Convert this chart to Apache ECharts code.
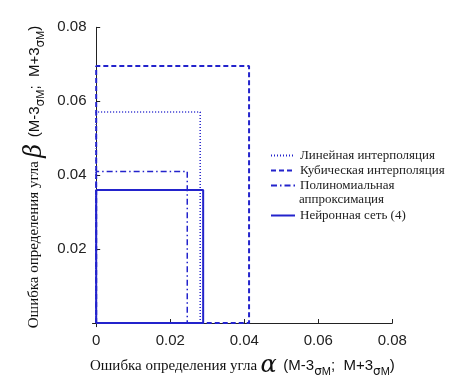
<!DOCTYPE html>
<html>
<head>
<meta charset="utf-8">
<script src="https://cdn.jsdelivr.net/npm/echarts@6/dist/echarts.min.js"></script>
<style>
  html, body { margin: 0; padding: 0; background: #fff; }
  #chart { width: 468px; height: 376px; }
</style>
</head>
<body>
<div id="chart"></div>
<script>
// методы: границы интервалов (M-3σ; M+3σ) по alpha и beta
var methods = ["Линейная интерполяция", "Кубическая интерполяция", "Полиномиальная", "Нейронная сеть (4)"];
var alphaLow = [0, 0, 0, 0];
var alphaHigh = [0.0281, 0.0413, 0.0246, 0.0289];
var betaLow = [0, 0, 0, 0];
var betaHigh = [0.0571, 0.0695, 0.0410, 0.0360];
var xTicks = [0, 0.02, 0.04, 0.06, 0.08];
var yTicks = [0.02, 0.04, 0.06, 0.08];

var blue = "#2323cc";
var lineTypes = [[1, 2], [5, 3], [6, 3, 1.5, 3], "solid"];
var lineWidths = [1.5, 2, 1.5, 2];

function rect(i) {
  return [
    [alphaLow[i], betaLow[i]],
    [alphaLow[i], betaHigh[i]],
    [alphaHigh[i], betaHigh[i]],
    [alphaHigh[i], betaLow[i]],
    [alphaLow[i], betaLow[i]]
  ];
}

var seriesArr = [];
for (var i = 0; i < methods.length; i++) {
  seriesArr.push({
    name: methods[i],
    type: "line",
    data: rect(i),
    symbol: "none",
    z: 2 + i,
    lineStyle: { color: blue, width: lineWidths[i], type: lineTypes[i] },
    itemStyle: { color: blue }
  });
}

var nameRich = {
  t: { fontFamily: "Liberation Serif", fontSize: 15, color: "#111" },
  a: { fontFamily: "DejaVu Serif", fontStyle: "italic", fontSize: 24, color: "#111" },
  s: { fontFamily: "Liberation Sans", fontSize: 15, color: "#111" },
  g: { fontFamily: "DejaVu Sans", fontSize: 12, color: "#111", verticalAlign: "bottom" },
  m: { fontFamily: "Liberation Sans", fontSize: 11, color: "#111", verticalAlign: "bottom" }
};

var legendText = { fontFamily: "Liberation Serif", fontSize: 13, color: "#222", lineHeight: 15 };

var myChart = echarts.init(document.getElementById("chart"));
myChart.setOption({
  animation: false,
  grid: { left: 92.5, top: 27.3, right: 75.7, bottom: 49.3, containLabel: false, outerBoundsMode: "none" },
  legend: [
    {
      data: methods.slice(0, 3),
      orient: "vertical",
      left: 265,
      top: 143,
      itemWidth: 24,
      itemHeight: 10,
      itemGap: 0,
      itemStyle: { opacity: 0 },
      textStyle: legendText
    },
    {
      data: [methods[3]],
      orient: "vertical",
      left: 265,
      top: 203,
      itemWidth: 24,
      itemHeight: 10,
      itemStyle: { opacity: 0 },
      textStyle: legendText
    }
  ],
  graphic: [
    {
      type: "text",
      left: 299,
      top: 193,
      style: { text: "аппроксимация", font: "13px 'Liberation Serif'", fill: "#222" }
    }
  ],
  xAxis: {
    type: "value",
    min: -0.001,
    max: 0.08,
    name: "{t|Ошибка определения угла} {a|α}  {s|(M-3}{g|σ}{m|M}{s|;  M+3}{g|σ}{m|M}{s|)}",
    nameLocation: "middle",
    nameGap: 19,
    nameTextStyle: { rich: nameRich },
    axisLine: { show: true, lineStyle: { color: "#222", width: 1 } },
    axisTick: { show: true, inside: true, length: 4, customValues: xTicks, lineStyle: { color: "#222" } },
    axisLabel: {
      customValues: xTicks,
      margin: 7,
      fontFamily: "Liberation Sans",
      fontSize: 15,
      color: "#222",
      formatter: function (v) { return v === 0 ? "0" : v.toFixed(2); }
    },
    splitLine: { show: false }
  },
  yAxis: {
    type: "value",
    min: -0.001,
    max: 0.08,
    name: "{t|Ошибка определения угла} {a|β}  {s|(M-3}{g|σ}{m|M}{s|;  M+3}{g|σ}{m|M}{s|)}",
    nameLocation: "middle",
    nameGap: 40,
    nameTextStyle: { rich: nameRich },
    axisLine: { show: true, lineStyle: { color: "#222", width: 1 } },
    axisTick: { show: true, inside: true, length: 4, customValues: yTicks, lineStyle: { color: "#222" } },
    axisLabel: {
      customValues: yTicks,
      margin: 6,
      fontFamily: "Liberation Sans",
      fontSize: 15,
      color: "#222",
      formatter: function (v) { return v.toFixed(2); }
    },
    splitLine: { show: false }
  },
  series: seriesArr
});
</script>
</body>
</html>
